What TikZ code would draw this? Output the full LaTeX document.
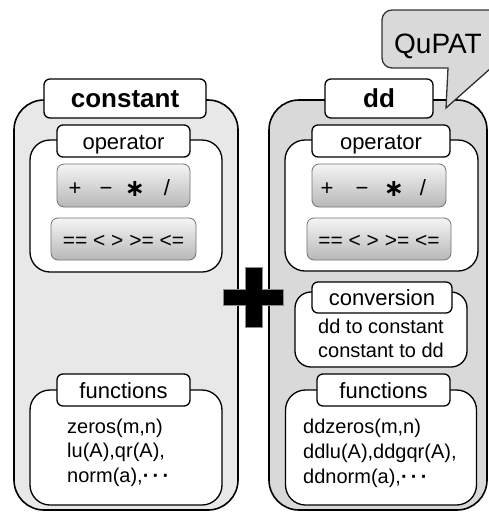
\documentclass[tikz,border=0pt]{standalone}
\usepackage{fontspec}
\setmainfont{Liberation Sans}
\newfontfamily\djv{DejaVu Sans}
\definecolor{lgray}{HTML}{E8E8E8}
\definecolor{dgray}{HTML}{D9D9D9}
\begin{document}
\begin{tikzpicture}[x=1pt,y=-1pt,
 panel/.style={draw, line width=1.6pt, rounded corners=30pt, inner sep=0pt},
 lab/.style={draw, fill=white, line width=1.3pt, rounded corners=6pt, inner sep=0pt, font=\fontsize{22}{26}\selectfont, text height=16pt, text depth=0pt},
 toplab/.style={lab, font=\fontsize{26}{30}\selectfont\bfseries, text height=18.5pt},
 inbox/.style={draw, fill=white, line width=1.3pt, rounded corners=20pt, inner sep=0pt},
 btn/.style={draw=black!55, line width=0.8pt, top color=black!4, bottom color=black!28, rounded corners=7pt, inner sep=0pt},
 sym/.style={inner sep=0pt, anchor=base, font=\fontsize{22}{26}\selectfont},
 cmp/.style={inner sep=0pt, anchor=base, font=\fontsize{21}{25}\selectfont},
 body/.style={inner sep=0pt, font=\fontsize{20}{24}\selectfont, anchor=base west},
 cbody/.style={inner sep=0pt, font=\fontsize{20}{24}\selectfont, anchor=base},
]
\useasboundingbox (0,0) rectangle (489,512);
\clip (0,0) rectangle (489,512);

% panels
\node[panel, fill=lgray, minimum width=224pt, minimum height=410pt] (lpanel) at (126,305) {};
\node[panel, fill=dgray, minimum width=218pt, minimum height=410pt] (rpanel) at (378,305) {};

% top labels
\node[toplab, minimum width=162pt, minimum height=39pt] (lconst) at (125,98.5) {constant};
\node[toplab, minimum width=108pt, minimum height=39pt] (rdd) at (379,98.5) {dd};

% operator boxes
\node[inbox, minimum width=192pt, minimum height=132pt] (lopbox) at (126,206) {};
\node[lab, minimum width=133pt, minimum height=32pt] (loplab) at (123.5,141) {operator};
\node[inbox, minimum width=193pt, minimum height=131pt] (ropbox) at (381.5,205.5) {};
\node[lab, minimum width=138pt, minimum height=32pt] (roplab) at (381,141) {operator};

% buttons
\node[btn, minimum width=133pt, minimum height=43pt] (lbtn1) at (123.5,185.5) {};
\node[btn, minimum width=145pt, minimum height=42pt] (lbtn2) at (123.5,239) {};
\node[btn, minimum width=134pt, minimum height=43pt] (rbtn1) at (379,185.5) {};
\node[btn, minimum width=144pt, minimum height=42pt] (rbtn2) at (379,239) {};

\node[sym] (lplus) at (75,195) {+};
\node[sym] (lminus) at (106,195) {−};
\node[sym, font=\fontsize{24}{26}\selectfont\djv\bfseries] (last) at (135,196) {∗};
\node[sym] (lslash) at (167,195) {/};
\node[cmp] (lcmp) at (123.5,247) {== < > >= <=};

\node[sym] (rplus) at (327,195) {+};
\node[sym] (rminus) at (362,195) {−};
\node[sym, font=\fontsize{24}{26}\selectfont\djv\bfseries] (rast) at (394,196) {∗};
\node[sym] (rslash) at (423,195) {/};
\node[cmp] (rcmp) at (379,247) {== < > >= <=};

% conversion
\node[inbox, rounded corners=16pt, minimum width=172pt, minimum height=75pt] (convbox) at (381,329.5) {};
\node[lab, minimum width=140pt, minimum height=31pt] (convlab) at (382,297.5) {conversion};
\node[cbody] (conv1) at (381,333) {dd to constant};
\node[cbody] (conv2) at (381,357) {constant to dd};

% functions
\node[inbox, minimum width=192pt, minimum height=115pt] (lfunbox) at (126,447.5) {};
\node[lab, minimum width=133pt, minimum height=32pt] (lfunlab) at (123.5,390) {functions};
\node[body] (lf1) at (67,433) {zeros(m,n)};
\node[body] (lf2) at (67,457) {lu(A),qr(A),};
\node[body] (lf3) at (67,482) {norm(a),{\bfseries ·\,·\,·}};

\node[inbox, minimum width=191pt, minimum height=115pt] (rfunbox) at (381,447.5) {};
\node[lab, minimum width=133pt, minimum height=32pt] (rfunlab) at (383.5,390) {functions};
\node[body] (rf1) at (303,433) {ddzeros(m,n)};
\node[body] (rf2) at (303,458) {ddlu(A),ddgqr(A),};
\node[body] (rf3) at (303,483) {ddnorm(a),{\bfseries ·\,·\,·}};

% big plus
\draw[fill=black, draw=black!45, line width=0.8pt]
 (245,267) -- (262,267) -- (262,289) -- (283,289) -- (283,305) -- (262,305)
 -- (262,327) -- (245,327) -- (245,305) -- (223,305) -- (223,289) -- (245,289) -- cycle;

% callout
\draw[fill=dgray, draw=black!80, line width=1.3pt]
 (382,38) [rounded corners=10pt] -- (382,10) -- (505,10) -- (505,68)
 [sharp corners] -- (491,68) -- (446,108) -- (448,68)
 [rounded corners=10pt] -- (382,68) -- cycle;
\node[inner sep=0pt, anchor=base, font=\fontsize{28}{32}\selectfont] (qupat) at (438,53) {QuPAT};
\end{tikzpicture}
\end{document}
